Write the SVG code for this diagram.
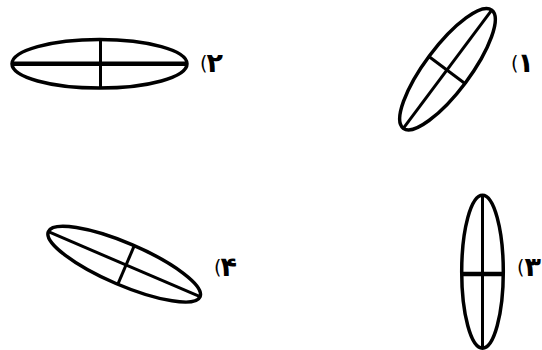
<svg xmlns="http://www.w3.org/2000/svg" width="542" height="350" viewBox="0 0 542 350">
<style>
.e{fill:none;stroke:#000;stroke-width:3.5}
.a{stroke:#000;stroke-width:3}
.b{stroke:#000;stroke-width:4.5}
.t{font-family:"DejaVu Sans",sans-serif;font-size:19px;fill:#000}
.d{font-family:"DejaVu Sans",sans-serif;font-size:27px;font-weight:bold;fill:#000}
</style>
<rect width="542" height="350" fill="#fff"/>
<g id="e2">
<ellipse class="e" cx="99.5" cy="63.8" rx="87.5" ry="24.3"/>
<line class="b" x1="12" y1="63.8" x2="187" y2="63.8"/>
<line class="a" x1="100.5" y1="39.5" x2="100.5" y2="88"/>
<text class="t" x="200" y="70">(</text>
<text class="d" x="206.5" y="72">۲</text>
</g>
<g id="e1">
<g transform="translate(447.5,69.2) rotate(-53.2)">
<ellipse class="e" cx="0" cy="0" rx="73.8" ry="22.5"/>
<line class="a" x1="-73.8" y1="0" x2="73.8" y2="0"/>
<line class="a" x1="-1" y1="-22.5" x2="-1" y2="22.5"/>
</g>
<text class="t" x="511" y="70">(</text>
<text class="d" x="517.5" y="72">۱</text>
</g>
<g id="e4">
<g transform="translate(124.2,264.2) rotate(23.2)">
<ellipse class="e" cx="0" cy="0" rx="82.5" ry="21"/>
<line class="a" x1="-82.5" y1="0" x2="82.5" y2="0"/>
<line class="a" x1="2" y1="-21" x2="2" y2="21"/>
</g>
<text class="t" x="214" y="274">(</text>
<text class="d" x="220.5" y="276">۴</text>
</g>
<g id="e3">
<ellipse class="e" cx="482.5" cy="271.7" rx="20.8" ry="76.5"/>
<line class="a" x1="482.5" y1="195.2" x2="482.5" y2="348.2"/>
<line class="b" x1="461.7" y1="274" x2="503.3" y2="274"/>
<text class="t" x="517" y="274">(</text>
<text class="d" x="524.5" y="276">۳</text>
</g>
</svg>
